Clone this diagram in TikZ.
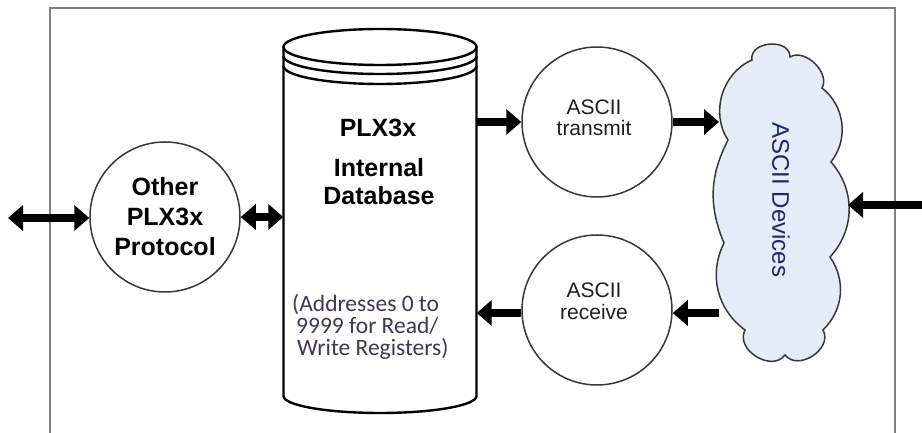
\documentclass[tikz,border=0pt]{standalone}
\usepackage{fontspec}
\setmainfont{Liberation Sans}
\newfontfamily\calib{Carlito}
\usetikzlibrary{arrows.meta}
\definecolor{framegray}{RGB}{128,128,128}
\definecolor{cloudfill}{RGB}{230,236,247}
\definecolor{cloudtext}{RGB}{30,40,100}
\definecolor{addrtext}{RGB}{64,56,80}
\definecolor{outl}{RGB}{55,55,55}
\tikzset{
  framel/.style={draw=framegray, line width=2pt},
  cylline/.style={draw=black, line width=2.4pt},
  proc/.style={circle, draw=outl, line width=1.5pt, minimum size=150pt, inner sep=0pt},
  arr/.style={line width=7.5pt, -{Triangle[length=15pt,width=25pt]}},
  darr/.style={line width=7.5pt, {Triangle[length=15pt,width=25pt]}-{Triangle[length=15pt,width=25pt]}},
  boldtxt/.style={font=\fontsize{25}{30}\selectfont\bfseries, inner sep=0pt},
  smalltxt/.style={font=\fontsize{21}{24}\selectfont, inner sep=0pt, text=black!88},
  addrline/.style={font=\calib\fontsize{23.5}{24}\selectfont, text=addrtext, inner sep=0pt, anchor=base west},
}
\begin{document}
\begin{tikzpicture}[x=1pt,y=1pt]
\useasboundingbox (0,0) rectangle (922,433);
% frame
\draw[framel] (50,-10) -- (50,425) -- (895,425) -- (895,-10);
% cylinder
\draw[cylline, fill=white] (283.5,386) -- (283.5,37) arc[start angle=180,end angle=360,x radius=96.5,y radius=17] -- (476.5,386);
\draw[cylline, fill=white] (380,386) ellipse [x radius=96.5, y radius=18];
\draw[cylline] (283.5,377) arc[start angle=180,end angle=360,x radius=96.5,y radius=18];
\draw[cylline] (283.5,367) arc[start angle=180,end angle=360,x radius=96.5,y radius=18];
\node[minimum width=193pt, minimum height=349pt, inner sep=0pt] (cyl) at (380,211.5) {};
\node[boldtxt] (plx) at (378,305) {PLX3x};
\node[boldtxt] (internal) at (379,265) {Internal};
\node[boldtxt] (database) at (379,237) {Database};
\node[addrline] (addr1) at (292,121) {(Addresses 0 to};
\node[addrline] (addr2) at (296,99) {9999 for Read/};
\node[addrline] (addr3) at (297,77) {Write Registers)};
% circles
\node[proc] (other) at (165,216) {};
\node[boldtxt] at (165,246) {Other};
\node[boldtxt] at (165,216) {PLX3x};
\node[boldtxt] at (165,186) {Protocol};
\node[proc] (tx) at (597,311) {};
\node[smalltxt] at (594,326) {ASCII};
\node[smalltxt] at (594,305) {transmit};
\node[proc] (rx) at (597,123) {};
\node[smalltxt] at (594,143) {ASCII};
\node[smalltxt] at (594,121) {receive};
% cloud
\draw[draw=outl, line width=1.5pt, fill=cloudfill]
  (752,373) to[bend left=95, looseness=1.3] (790,376)
  to[bend left=75] (822,345)
  to[bend left=45] (831,271)
  to[bend left=42] (830,176)
  to[bend left=40] (823,103)
  to[bend left=85, looseness=1.2] (785,78)
  to[bend left=85, looseness=1.2] (745,103)
  to[bend left=40] (724,190)
  to[bend left=25] (728,293)
  to[bend left=50] cycle;
\node[font=\fontsize{24}{28}\selectfont, text=cloudtext, rotate=-90, inner sep=0pt] (devices) at (781,233) {ASCII Devices};
\coordinate (cloudR) at (848,228);
\coordinate (cloudTx) at (719,311);
\coordinate (cloudRx) at (719,120);
\coordinate (leftEnd) at (8,215);
\coordinate (rightEnd) at (937,228);
% connectors
\draw[darr] (leftEnd) -- (other.west |- leftEnd);
\draw[darr] (other.east) -- (cyl.west |- other.east);
\draw[arr] (cyl.east |- tx.west) -- (tx.west);
\draw[arr] (tx.east) -- (cloudTx);
\draw[arr] (cloudRx) -- (rx.east |- cloudRx);
\draw[arr] (rx.west |- cloudRx) -- (cyl.east |- cloudRx);
\draw[darr] (cloudR) -- (rightEnd);
\end{tikzpicture}
\end{document}
